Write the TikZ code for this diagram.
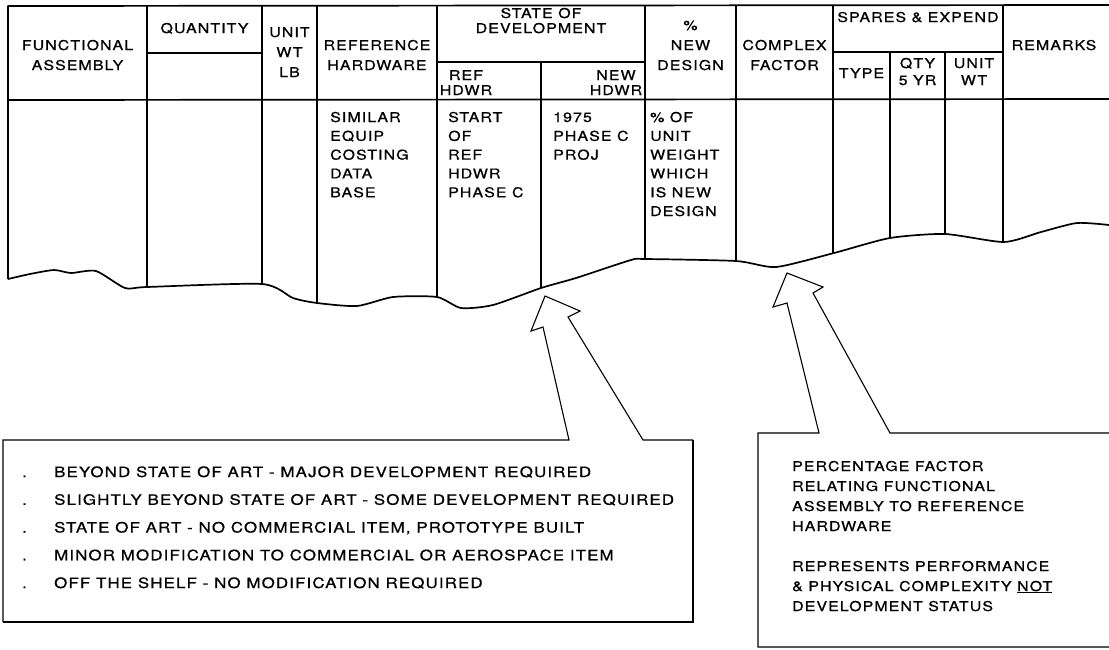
\documentclass[tikz,border=0pt]{standalone}
\usepackage{fontspec}
\setmainfont{TeX Gyre Heros}[FakeStretch=1.18, LetterSpace=8, FakeBold=0.8]
\usepackage{tikz}

\begin{document}
\begin{tikzpicture}[x=1pt,y=-1pt,
	hdr/.style={font=\fontsize{13.5}{20}\selectfont, inner sep=0pt, align=center, anchor=base},
	cell/.style={font=\fontsize{13.5}{18.8}\selectfont, inner sep=0pt, align=left, anchor=base west},
	note/.style={font=\fontsize{14.3}{27.75}\selectfont, inner sep=0pt, align=left, anchor=base west},
	rule/.style={line width=1.1pt},
	edge/.style={line width=1.7pt, line join=round}]

	\useasboundingbox (0,0) rectangle (1109,649);

	% table frame and rules
	\draw[edge] (8,279) -- (8,6) -- (1109,5);
	\draw[edge] (8,100) -- (1109,99);
	\draw[rule] (147,53) -- (262,53);
	\draw[rule] (437,62) -- (645,62);
	\draw[rule] (833,52) -- (1003,52);
	\foreach \x/\ya/\yb in {147/6/287, 262/6/284, 317/6/303, 437/6/297, 541/62/288, 645/5/259,
		736/5/261, 833/5/253, 890/52/238, 945/52/234, 1003/5/241}
		\draw[rule] (\x,\ya) -- (\x,\yb);

	% torn lower edge
	\draw[edge] plot[smooth, tension=0.4] coordinates {(8,279) (30,274) (54,270) (71,273) (96,271)
		(125,288) (147,287) (262,284) (293,298) (317,303) (357,306) (393,297) (437,297) (461,308)
		(493,305) (541,288) (576,278) (631,260) (645,259) (736,261) (776,267) (834,253) (890,238)
		(945,234) (1004,242) (1041,232) (1077,223) (1109,225)};

	% column heads (anchored on the baseline of the last line)
	\node[hdr] (funcHdr) at (77.5,70) {FUNCTIONAL\\ASSEMBLY};
	\node[hdr] (qtyHdr) at (204.5,33) {QUANTITY};
	\node[hdr] (unitHdr) at (289.5,77) {UNIT\\WT\\LB};
	\node[hdr] (refHdr) at (377,70) {REFERENCE\\HARDWARE};
	\node[hdr, font=\fontsize{13.5}{15}\selectfont] (stateHdr) at (541,33) {STATE OF\\DEVELOPMENT};
	\node[hdr, font=\fontsize{13.5}{15}\selectfont] (refhwHdr) at (466,95) {REF\\HDWR};
	\node[hdr, font=\fontsize{13.5}{15}\selectfont] (newhwHdr) at (616,95) {NEW\\HDWR};
	\node[hdr] (pctHdr) at (690.5,70) {\%\\NEW\\DESIGN};
	\node[hdr] (cmplxHdr) at (784.5,70) {COMPLEX\\FACTOR};
	\node[hdr] (sparesHdr) at (918,22) {SPARES \& EXPEND};
	\node[hdr] (typeHdr) at (861.5,78) {TYPE};
	\node[hdr, font=\fontsize{13.5}{17}\selectfont] (qtyfiveHdr) at (917.5,85) {QTY\\5 YR};
	\node[hdr, font=\fontsize{13.5}{17}\selectfont] (uwtHdr) at (974,85) {UNIT\\WT};
	\node[hdr] (rmkHdr) at (1054,50) {REMARKS};

	% entries
	\node[cell] (refCell) at (330,197.2) {SIMILAR\\EQUIP\\COSTING\\DATA\\BASE};
	\node[cell] (startCell) at (448,197.2) {START\\OF\\REF\\HDWR\\PHASE C};
	\node[cell] (newCell) at (553,159.6) {1975\\PHASE C\\PROJ};
	\node[cell] (pctCell) at (650,216) {\% OF\\UNIT\\WEIGHT\\WHICH\\IS NEW\\DESIGN};

	% callout for state of development
	\draw[rule] (693,440) -- (643,440) -- (568,317) -- (580,311) -- (545,296) -- (531,331)
		-- (543,327) -- (569,440) -- (3,440) -- (3,622);
	\draw[line width=2.4pt] (693,440) -- (693,622) -- (3,622);
	\foreach \t [count=\i] in {{BEYOND STATE OF ART - MAJOR DEVELOPMENT REQUIRED},
		{SLIGHTLY BEYOND STATE OF ART - SOME DEVELOPMENT REQUIRED},
		{STATE OF ART - NO COMMERCIAL ITEM, PROTOTYPE BUILT},
		{MINOR MODIFICATION TO COMMERCIAL OR AEROSPACE ITEM},
		{OFF THE SHELF - NO MODIFICATION REQUIRED}}
		\node[note] (art\i) at (22,{477+27.75*(\i-1)}) {\makebox[32pt][l]{.}\t};

	% callout for complex factor
	\draw[rule] (1109,433) -- (890,433) -- (813,293) -- (823,287) -- (787,273) -- (773,307)
		-- (787,303) -- (819,433) -- (758,433) -- (758,647) -- (1109,647);
	\node[note, font=\fontsize{13.5}{20}\selectfont] (factorNote) at (792,611)
		{PERCENTAGE FACTOR\\RELATING FUNCTIONAL\\ASSEMBLY TO REFERENCE\\HARDWARE\\[20pt]
		REPRESENTS PERFORMANCE\\\& PHYSICAL COMPLEXITY \underline{NOT}\\DEVELOPMENT STATUS};

\end{tikzpicture}
\end{document}
